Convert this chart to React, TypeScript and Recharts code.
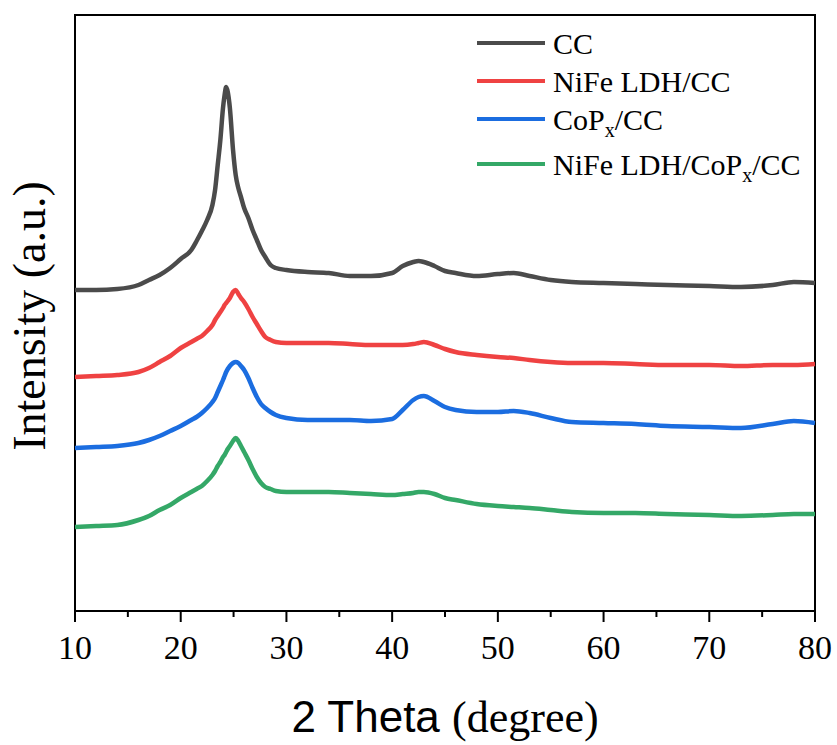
import { LineChart, Line, XAxis, YAxis, ReferenceArea, Legend } from 'recharts';

// 2θ sample positions (degree), denser around the carbon (002) peak
const TWO_THETA = [
  10, 12, 14, 16, 17, 18, 19, 20, 21, 21.5, 22, 22.5, 23, 23.25, 23.5, 23.75, 24, 24.15, 24.3, 24.45,
  24.65, 24.95, 25.2, 25.45, 25.7, 26, 26.4, 26.8, 27.2, 27.6, 28, 28.5, 29, 30,
  32, 34, 36, 38, 40, 41, 42, 42.5, 43, 44, 45, 46, 48, 50, 51.5, 53, 55, 57, 60, 63, 66, 70, 73, 76, 78, 80,
];

// stacked intensities (a.u., each pattern offset upward)
const CC = [
  321, 321, 322, 326, 331, 336, 343, 352, 361, 370, 380, 391, 406, 421, 446, 471, 503, 516, 524, 519,
  503, 461, 436, 423, 414, 403, 393, 381, 371, 361, 354, 346, 343, 341,
  339, 338, 335, 335, 338, 345, 349, 350, 349, 345, 340, 338, 335, 337, 338, 335, 331, 329, 328, 327, 326, 325, 324, 326, 329, 328,
];
const NIFE_LDH_CC = [
  234, 235, 236, 239, 243, 249, 255, 263, 269, 272, 275, 280, 286, 291, 295, 299, 303, 306, 308, 310,
  313, 319, 321, 317, 313, 309, 302, 294, 287, 280, 274, 271, 269, 268,
  268, 268, 267, 266, 266, 266, 267, 268, 269, 266, 262, 259, 256, 254, 253, 251, 249, 248, 248, 247, 246, 246, 245, 246, 246, 247,
];
const COPX_CC = [
  163, 164, 165, 168, 171, 175, 180, 185, 191, 194, 198, 203, 209, 213, 219, 225, 231, 235, 239, 242,
  245, 248, 249, 248, 245, 241, 233, 223, 214, 207, 203, 199, 196, 193,
  191, 191, 191, 190, 192, 201, 211, 214, 215, 210, 204, 201, 199, 199, 200, 198, 193, 189, 188, 187, 185, 184, 183, 187, 190, 188,
];
const NIFE_LDH_COPX_CC = [
  84, 85, 86, 91, 95, 101, 106, 113, 119, 122, 125, 130, 136, 140, 145, 149, 154, 156, 159, 162,
  165, 170, 173, 170, 165, 159, 151, 142, 134, 128, 124, 122, 120, 119,
  119, 119, 118, 117, 116, 117, 118, 119, 119, 117, 113, 111, 107, 105, 104, 103, 101, 99, 98, 98, 97, 96, 95, 96, 97, 97,
];

const X_TICKS = [10, 15, 20, 25, 30, 35, 40, 45, 50, 55, 60, 65, 70, 75, 80];

const SERIES = [
  { key: 'cc', name: 'CC', values: CC, color: '#4b4b4b' },
  { key: 'nife', name: 'NiFe LDH/CC', values: NIFE_LDH_CC, color: '#ef4242' },
  { key: 'copx', name: 'CoPx/CC', values: COPX_CC, color: '#1b6de0' },
  { key: 'nifeCopx', name: 'NiFe LDH/CoPx/CC', values: NIFE_LDH_COPX_CC, color: '#34a867' },
];

const data = TWO_THETA.map((theta, i) => {
  const row: Record<string, number> = { theta };
  SERIES.forEach((s) => {
    row[s.key] = s.values[i];
  });
  return row;
});

const SERIF = { fontFamily: 'Liberation Serif, Times New Roman, serif' };
const SANS = { fontFamily: 'Liberation Sans, Arial, sans-serif' };

function ThetaTick({ x, y, payload }: any) {
  const major = payload.value % 10 === 0;
  return (
    <g>
      <line x1={x} x2={x} y1={y} y2={y + (major ? 11 : 6)} stroke="#000" strokeWidth={2} />
      {major && (
        <text x={x} y={y + 48} textAnchor="middle" style={SERIF} fontSize={34} fill="#000">
          {payload.value}
        </text>
      )}
    </g>
  );
}

function XTitle({ viewBox }: any) {
  const { x, y, width } = viewBox;
  return (
    <text x={x + width / 2} y={y + 121} textAnchor="middle" fontSize={44} fill="#000">
      <tspan style={SANS}>2 Theta </tspan>
      <tspan style={SERIF}>(degree)</tspan>
    </text>
  );
}

function YTitle({ viewBox }: any) {
  const { y, height } = viewBox;
  const cy = y + height / 2 + 3;
  return (
    <text
      x={45}
      y={cy}
      transform={`rotate(-90 45 ${cy})`}
      textAnchor="middle"
      style={SERIF}
      fontSize={46}
      fill="#000"
    >
      Intensity (a.u.)
    </text>
  );
}

// "Px" in a sample name is written as P with subscript x
function sampleName(name: string) {
  const parts = name.split('Px');
  const out = [<tspan key="p0">{parts[0]}</tspan>];
  for (let i = 1; i < parts.length; i++) {
    out.push(<tspan key={`P${i}`}>P</tspan>);
    out.push(
      <tspan key={`x${i}`} fontSize={20} dy={7}>
        x
      </tspan>,
    );
    out.push(
      <tspan key={`r${i}`} dy={-7}>
        {parts[i]}
      </tspan>,
    );
  }
  return out;
}

const LEGEND_ROWS = [23, 61, 99, 144];

function SampleLegend() {
  return (
    <svg width={360} height={170}>
      {SERIES.map((s, i) => (
        <g key={s.key}>
          <line x1={7} x2={75} y1={LEGEND_ROWS[i]} y2={LEGEND_ROWS[i]} stroke={s.color} strokeWidth={4} />
          <text x={83} y={LEGEND_ROWS[i] + 11} style={SERIF} fontSize={30} fill="#000">
            {sampleName(s.name)}
          </text>
        </g>
      ))}
    </svg>
  );
}

export default function App() {
  return (
    <div style={{ position: 'absolute', left: 0, top: 0, background: '#fff' }}>
      <LineChart width={837} height={745} data={data} margin={{ top: 15, right: 22, bottom: 0, left: 0 }}>
        <XAxis
          dataKey="theta"
          type="number"
          domain={[10, 80]}
          ticks={X_TICKS}
          interval={0}
          height={134}
          axisLine={false}
          tickLine={false}
          tickSize={0}
          tickMargin={0}
          tick={<ThetaTick />}
          label={{ content: <XTitle /> }}
        />
        <YAxis
          type="number"
          domain={[0, 596]}
          width={75}
          tick={false}
          tickLine={false}
          axisLine={false}
          label={{ content: <YTitle /> }}
        />
        {SERIES.map((s) => (
          <Line
            key={s.key}
            dataKey={s.key}
            name={s.name}
            type="monotone"
            stroke={s.color}
            strokeWidth={4.5}
            strokeLinejoin="round"
            dot={false}
            isAnimationActive={false}
          />
        ))}
        <ReferenceArea x1={10} x2={80} y1={0} y2={596} fill="none" stroke="#000" strokeWidth={2} />
        <Legend
          layout="vertical"
          align="center"
          verticalAlign="middle"
          content={<SampleLegend />}
          wrapperStyle={{ left: 470, top: 20, width: 360, height: 170 }}
        />
      </LineChart>
    </div>
  );
}
